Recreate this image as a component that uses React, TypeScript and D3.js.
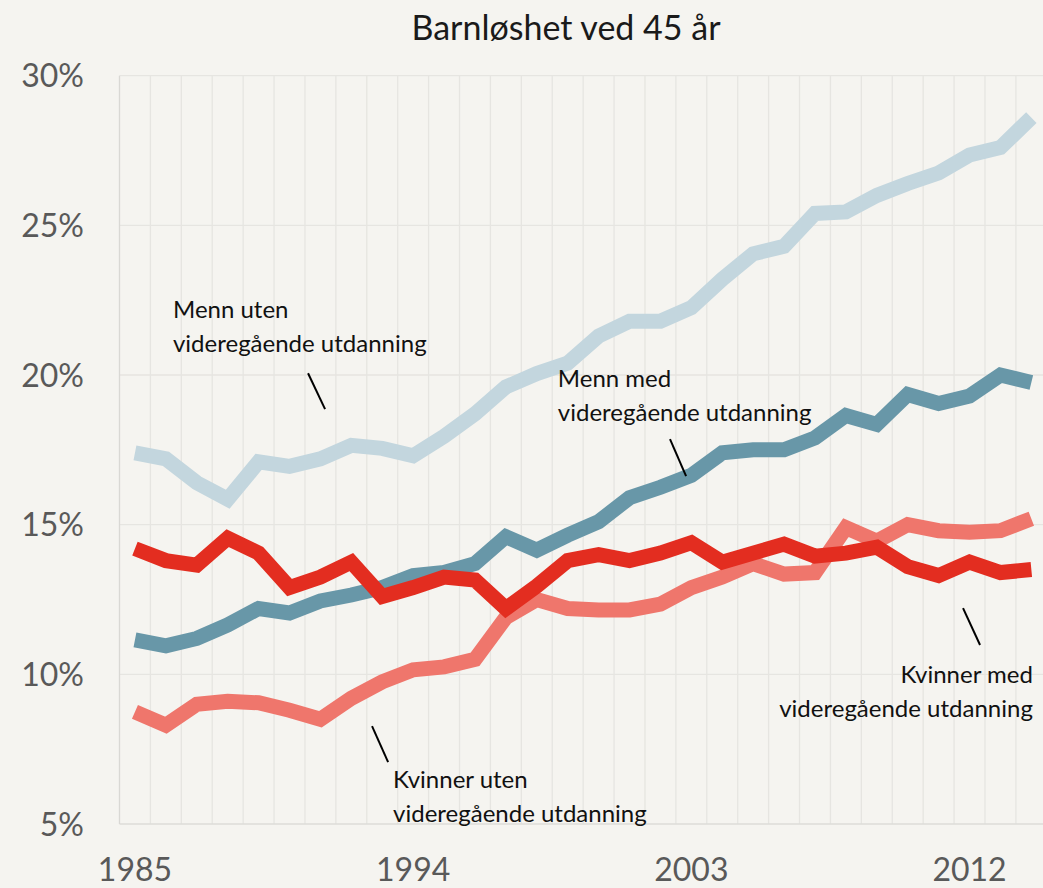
import React from 'react';
import * as d3 from 'd3';

// Barnløshet ved 45 år, 1985–2014 (prosent)
const years = d3.range(1985, 2015);
const tickYears = [1985, 1994, 2003, 2012];
const yTicks = [5, 10, 15, 20, 25, 30];

const mennUten = [
  17.4, 17.2, 16.4, 15.85, 17.1, 16.95, 17.2, 17.65, 17.55, 17.3,
  17.95, 18.7, 19.6, 20.05, 20.4, 21.3, 21.8, 21.8, 22.25, 23.2,
  24.05, 24.3, 25.4, 25.45, 26.0, 26.4, 26.75, 27.35, 27.6, 28.6,
];
const mennMed = [
  11.15, 10.95, 11.2, 11.65, 12.2, 12.05, 12.45, 12.65, 12.9, 13.3,
  13.4, 13.7, 14.6, 14.15, 14.65, 15.1, 15.9, 16.25, 16.65, 17.4,
  17.5, 17.5, 17.9, 18.65, 18.35, 19.35, 19.05, 19.3, 20.0, 19.75,
];
const kvinnerUten = [
  8.75, 8.3, 9.0, 9.1, 9.05, 8.8, 8.5, 9.2, 9.75, 10.15,
  10.25, 10.5, 11.9, 12.5, 12.2, 12.15, 12.15, 12.35, 12.9, 13.25,
  13.7, 13.35, 13.4, 14.9, 14.45, 15.0, 14.8, 14.75, 14.8, 15.2,
];
const kvinnerMed = [
  14.2, 13.8, 13.65, 14.55, 14.05, 12.9, 13.25, 13.75, 12.6, 12.9,
  13.25, 13.15, 12.2, 12.95, 13.8, 14.0, 13.8, 14.05, 14.4, 13.75,
  14.05, 14.35, 13.95, 14.05, 14.25, 13.6, 13.3, 13.75, 13.4, 13.5,
];

const series = [
  { name: 'Menn uten videregående utdanning', values: mennUten, color: '#c3d6de' },
  { name: 'Menn med videregående utdanning', values: mennMed, color: '#6897a8' },
  { name: 'Kvinner uten videregående utdanning', values: kvinnerUten, color: '#ef766c' },
  { name: 'Kvinner med videregående utdanning', values: kvinnerMed, color: '#e32d20' },
];

// labels placed in data space: k = year index, v = percent
const notes = [
  { lines: ['Menn uten', 'videregående utdanning'], k: 1.23, v: 21.9, anchor: 'start', from: [5.6, 20.06], to: [6.15, 18.86] },
  { lines: ['Menn med', 'videregående utdanning'], k: 13.68, v: 19.6, anchor: 'start', from: [17.31, 17.86], to: [17.83, 16.62] },
  { lines: ['Kvinner uten', 'videregående utdanning'], k: 8.35, v: 6.2, anchor: 'start', from: [7.67, 8.27], to: [8.19, 7.07] },
  { lines: ['Kvinner med', 'videregående utdanning'], k: 29.05, v: 9.71, anchor: 'end', from: [26.79, 12.21], to: [27.34, 10.98] },
];

const W = 1043;
const H = 888;
const FONT = 'Lato, "Open Sans", sans-serif';

export default function App() {
  const left = 119.5;
  const step = 30.91;
  const top = 75.7;
  const bottom = 824;

  const x = d3
    .scaleBand<number>()
    .domain(years)
    .range([left, left + step * years.length])
    .padding(0);
  const bw = x.bandwidth();
  const cx = (yr: number) => (x(yr) as number) + bw / 2;
  const kx = (k: number) => cx(years[0]) + k * bw;

  const y = d3.scaleLinear().domain([5, 30]).range([bottom, top]);

  const line = d3
    .line<number>()
    .x((_, i) => cx(years[i]))
    .y((d) => y(d));

  const edges = [...years.map((yr) => x(yr) as number), left + bw * years.length];

  return (
    <svg
      width={W}
      height={H}
      style={{ position: 'absolute', left: 0, top: 0, background: '#f5f4f0' }}
      fontFamily={FONT}
    >
      <rect x={0} y={0} width={W} height={H} fill="#f5f4f0" />

      <g>
        {edges.slice(1).map((e, i) => (
          <line key={'v' + i} x1={e} x2={e} y1={top} y2={bottom} stroke="#e6e5e1" strokeWidth={1.3} />
        ))}
        {yTicks.slice(1).map((t) => (
          <line key={'h' + t} x1={left} x2={W} y1={y(t)} y2={y(t)} stroke="#e6e5e1" strokeWidth={1.3} />
        ))}
        <line x1={left} x2={W} y1={bottom} y2={bottom} stroke="#dddcd8" strokeWidth={1.3} />
        <line x1={left} x2={left} y1={top} y2={bottom} stroke="#d9d8d4" strokeWidth={1.3} />
      </g>

      <g fill="none" strokeWidth={15} strokeLinejoin="miter" strokeLinecap="butt">
        {series.map((s) => (
          <path key={s.name} d={line(s.values) || ''} stroke={s.color} />
        ))}
      </g>

      <g fill="#595959" fontSize={32}>
        {yTicks.map((t) => (
          <text key={t} x={84} y={y(t)} dy="0.36em" textAnchor="end">
            {t}%
          </text>
        ))}
        {tickYears.map((yr) => (
          <text key={yr} x={cx(yr)} y={881} textAnchor="middle">
            {yr}
          </text>
        ))}
      </g>

      <text x={566} y={40} textAnchor="middle" fontSize={34} fill="#1a1a1a">
        Barnløshet ved 45 år
      </text>

      <g fill="#111" fontSize={24}>
        {notes.map((n) => (
          <g key={n.lines[0]}>
            <line
              x1={kx(n.from[0])}
              y1={y(n.from[1])}
              x2={kx(n.to[0])}
              y2={y(n.to[1])}
              stroke="#000"
              strokeWidth={2}
            />
            {n.lines.map((l, i) => (
              <text key={i} x={kx(n.k)} y={y(n.v) + i * 34} textAnchor={n.anchor as any}>
                {l}
              </text>
            ))}
          </g>
        ))}
      </g>
    </svg>
  );
}
